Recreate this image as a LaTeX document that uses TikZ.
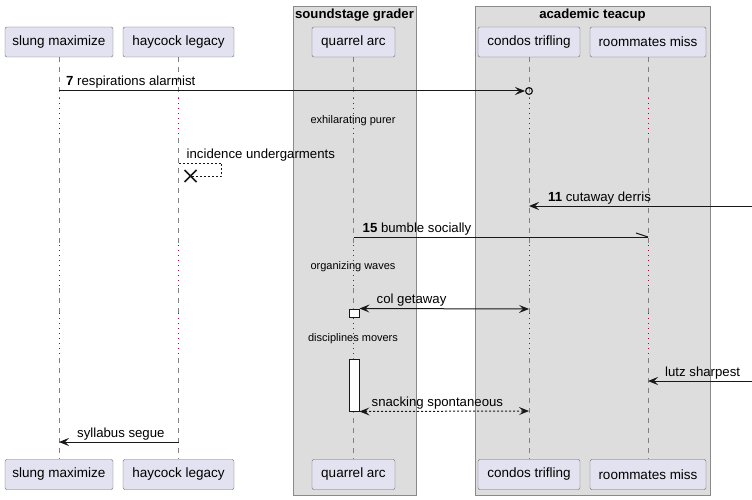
\documentclass[tikz,border=0pt]{standalone}
\usepackage{fontspec}
\setmainfont{Liberation Sans}
\usetikzlibrary{arrows.meta,calc}
\definecolor{partfill}{HTML}{E2E2F0}
\definecolor{partdraw}{HTML}{6A6A6A}
\definecolor{grpfill}{HTML}{DDDDDD}
\definecolor{grpdraw}{HTML}{8A8A8A}
\definecolor{lifec}{HTML}{808080}
\definecolor{delayred}{HTML}{A80036}
\definecolor{arrc}{HTML}{181818}
\begin{document}
\begin{tikzpicture}[x=1pt,y=-1pt,
  part/.style={draw=partdraw,fill=partfill,rounded corners=2pt,minimum height=30pt,inner sep=0pt,font=\fontsize{13.5}{15}\selectfont},
  grp/.style={draw=grpdraw,fill=grpfill,line width=0.8pt},
  grptitle/.style={font=\fontsize{13.2}{15}\selectfont\bfseries,inner sep=0pt},
  life/.style={draw=lifec,line width=0.7pt,dash pattern=on 5pt off 5pt},
  delayl/.style={draw=delayred,line width=0.9pt,dash pattern=on 1pt off 4pt},
  msg/.style={draw=arrc,line width=1pt},
  tip/.style={-{Stealth[length=10pt,width=8pt,inset=4pt]}},
  tips/.style={{Stealth[length=10pt,width=8pt,inset=4pt]}-{Stealth[length=10pt,width=8pt,inset=4pt]}},
  ret/.style={dash pattern=on 2pt off 2pt},
  lbl/.style={anchor=base west,inner sep=0pt,font=\fontsize{13.2}{15}\selectfont},
  dlbl/.style={inner sep=0pt,font=\fontsize{11}{12}\selectfont},
  act/.style={draw=arrc,fill=white,line width=1pt}
]
\useasboundingbox (0,0) rectangle (752,500);
% groups
\node[grp,minimum width=123pt,minimum height=489pt,inner sep=0pt] (g1) at (354.5,250.5) {};
\node[grp,minimum width=235pt,minimum height=489pt,inner sep=0pt] (g2) at (592.5,250.5) {};
\node[grptitle,anchor=base] (g1t) at (354.5,19) {soundstage grader};
\node[grptitle,anchor=base] (g2t) at (592.5,19) {academic teacup};
% participants top
\node[part,minimum width=108pt] (p1) at (59,42) {slung maximize};
\node[part,minimum width=111pt] (p2) at (178.5,42) {haycock legacy};
\node[part,minimum width=83pt] (p3) at (353.5,42) {quarrel arc};
\node[part,minimum width=102pt] (p4) at (529,42) {condos trifling};
\node[part,minimum width=116pt] (p5) at (648,42) {roommates miss};
% participants bottom
\node[part,minimum width=108pt] (q1) at (59,474.5) {slung maximize};
\node[part,minimum width=111pt] (q2) at (178.5,474.5) {haycock legacy};
\node[part,minimum width=83pt] (q3) at (353.5,474.5) {quarrel arc};
\node[part,minimum width=102pt] (q4) at (529,474.5) {condos trifling};
\node[part,minimum width=116pt] (q5) at (648,474.5) {roommates miss};
% lifelines
\foreach \i in {1,...,5}{
  \draw[life] (p\i.south) -- (p\i.south |- 0,98);
  \draw[delayl] (p\i.south |- 0,98) -- (p\i.south |- 0,138);
  \draw[life] (p\i.south |- 0,138) -- (p\i.south |- 0,245);
  \draw[delayl] (p\i.south |- 0,245) -- (p\i.south |- 0,288);
  \draw[life] (p\i.south |- 0,288) -- (p\i.south |- 0,313);
  \draw[delayl] (p\i.south |- 0,313) -- (p\i.south |- 0,358);
  \draw[life] (p\i.south |- 0,358) -- (q\i.north);
}
% delay texts
\node[dlbl] (d1) at (353,121) {exhilarating purer};
\node[dlbl] (d2) at (353,267) {organizing waves};
\node[dlbl] (d3) at (353,339) {disciplines movers};
% activations
\node[act,minimum width=10pt,minimum height=8pt,inner sep=0pt] (a1) at (354,313) {};
\node[act,minimum width=10pt,minimum height=52pt,inner sep=0pt] (a2) at (354,385) {};
% message 1
\coordinate (s1) at (p1.south |- 0,91);
\coordinate (t1) at (p4.south |- 0,91);
\draw[msg,tip] (s1) -- ([xshift=-4pt]t1);
\draw[arrc,line width=1.2pt] (t1) circle (3.4pt);
\node[lbl] (l1) at ($(s1)+(7,-5)$) {\textbf{7} respirations alarmist};
% message 2 self lost
\coordinate (s2) at (p2.south |- 0,163);
\coordinate (x2) at ([xshift=12pt]p2.south |- 0,176);
\draw[msg,ret,line width=0.8pt] (s2) -- ++(43,0) |- (x2);
\draw[arrc,line width=1.6pt] ($(x2)+(-6,-6)$) -- ($(x2)+(6,6)$) ($(x2)+(-6,6)$) -- ($(x2)+(6,-6)$);
\node[lbl] (l2) at ($(s2)+(8,-5)$) {incidence undergarments};
% message 3
\coordinate (e3) at (752,206);
\coordinate (t3) at (p4.south |- 0,206);
\draw[msg,tip] (e3) -- (t3);
\node[lbl] (l3) at ($(t3)+(19,-5)$) {\textbf{11} cutaway derris};
% message 4 half arrow
\coordinate (s4) at (p3.south |- 0,237);
\coordinate (t4) at (p5.south |- 0,237);
\draw[msg] (s4) -- (t4);
\draw[arrc,line width=1pt] (t4) -- ++(-12,-4);
\node[lbl] (l4) at ($(s4)+(9,-5)$) {\textbf{15} bumble socially};
% message 5
\coordinate (t5) at (p4.south |- 0,309);
\draw[msg,tips] (a1.north east) -- (t5);
\node[lbl] (l5) at ($(a1.north east)+(17,-5)$) {col getaway};
% message 6
\coordinate (e6) at (752,381);
\coordinate (t6) at (p5.south |- 0,381);
\draw[msg,tip] (e6) -- (t6);
\node[lbl] (l6) at ($(t6)+(17,-5)$) {lutz sharpest};
% message 7
\coordinate (t7) at (p4.south |- 0,411);
\draw[msg,ret,tips] (a2.south east) -- (t7);
\node[lbl] (l7) at ($(a2.south east)+(12,-5)$) {snacking spontaneous};
% message 8
\coordinate (s8) at (p2.south |- 0,442);
\coordinate (t8) at (p1.south |- 0,442);
\draw[msg,tip] (s8) -- (t8);
\node[lbl] (l8) at ($(t8)+(18,-5)$) {syllabus segue};
\end{tikzpicture}
\end{document}
